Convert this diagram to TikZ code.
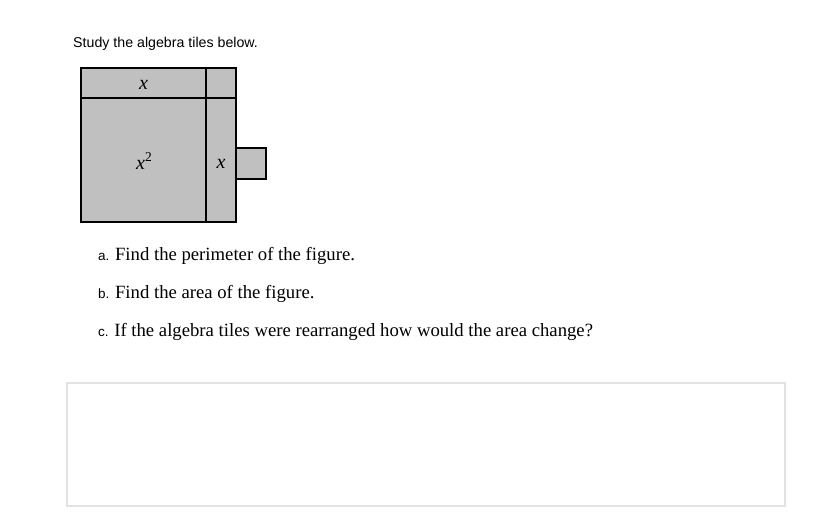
\documentclass[tikz,border=0pt]{standalone}
\usepackage{fontspec}
\setmainfont{Liberation Serif}
\newfontfamily\arialf{Liberation Sans}
\newcommand\itemltr[1]{{\arialf\fontsize{13.5}{16}\selectfont #1}}
\definecolor{tilegray}{HTML}{C0C0C0}
\definecolor{boxgray}{HTML}{E2E2E2}
\begin{document}
\begin{tikzpicture}[x=1pt,y=-1pt,
  tile/.style={draw=black,line width=1.3pt,fill=tilegray},
  lbl/.style={anchor=base,inner sep=0pt,font=\fontsize{20}{20}\selectfont\itshape},
  hdr/.style={anchor=base west,inner sep=0pt,font=\arialf\fontsize{14.2}{16}\selectfont},
  item/.style={anchor=base west,inner sep=0pt,font=\fontsize{18.7}{20}\selectfont}]
\useasboundingbox (0,0) rectangle (828,528);
\fill[white] (0,0) rectangle (828,528);
\node[hdr] (title) at (73,47) {Study the algebra tiles below.};
% tiles
\draw[tile] (81,68) rectangle (236,222);
\draw[tile] (236,148) rectangle (266,179);
\draw[line width=1.3pt] (81,98) -- (236,98);
\draw[line width=1.3pt] (206,68) -- (206,222);
\node[lbl] (lx1) at (143.5,89.5) {x};
\node[lbl] (lx2) at (144,169.5) {x\raisebox{8pt}{\fontsize{13.5}{13.5}\selectfont\upshape 2}};
\node[lbl] (lx3) at (221,168) {x};
% items
\node[item] (qa) at (98,260) {\itemltr{a.}\hspace{-0.6pt} Find the perimeter of the figure.};
\node[item] (qb) at (98,298) {\itemltr{b.}\hspace{-0.6pt} Find the area of the figure.};
\node[item] (qc) at (98,336) {\itemltr{c.}\hspace{-0.6pt} If the algebra tiles were rearranged how would the area change?};
% answer box
\draw[boxgray,line width=1.2pt] (67,383) rectangle (785,506);
\end{tikzpicture}
\end{document}
